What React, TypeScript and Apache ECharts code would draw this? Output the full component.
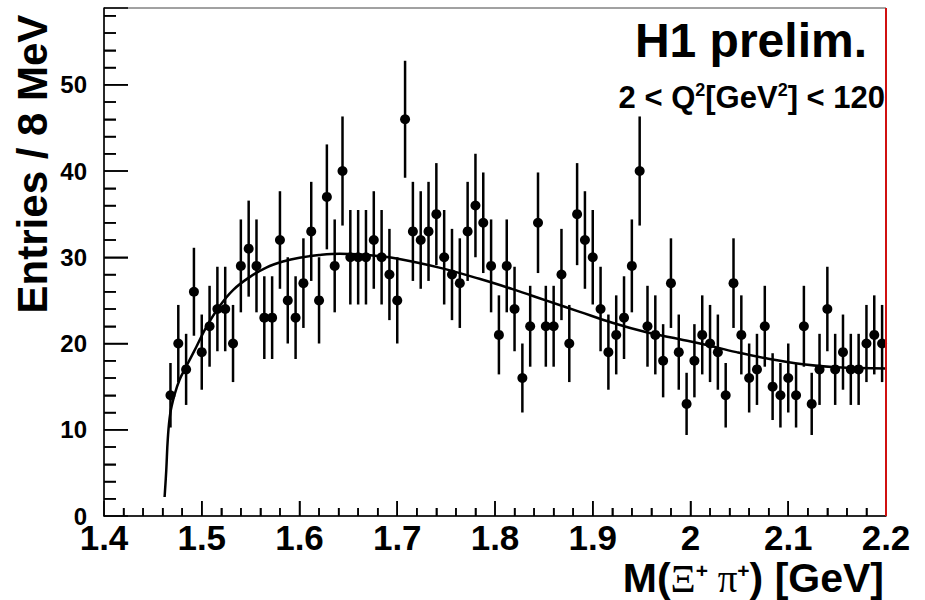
import React, { useEffect, useRef } from "react";
import * as echarts from "echarts";

// Bin centres of the 8 MeV histogram bins (GeV)
const masses = [
  1.468, 1.476, 1.484, 1.492, 1.5, 1.508, 1.516, 1.524, 1.532, 1.54,
  1.548, 1.556, 1.564, 1.572, 1.58, 1.588, 1.596, 1.604, 1.612, 1.62,
  1.628, 1.636, 1.644, 1.652, 1.66, 1.668, 1.676, 1.684, 1.692, 1.7,
  1.708, 1.716, 1.724, 1.732, 1.74, 1.748, 1.756, 1.764, 1.772, 1.78,
  1.788, 1.796, 1.804, 1.812, 1.82, 1.828, 1.836, 1.844, 1.852, 1.86,
  1.868, 1.876, 1.884, 1.892, 1.9, 1.908, 1.916, 1.924, 1.932, 1.94,
  1.948, 1.956, 1.964, 1.972, 1.98, 1.988, 1.996, 2.004, 2.012, 2.02,
  2.028, 2.036, 2.044, 2.052, 2.06, 2.068, 2.076, 2.084, 2.092, 2.1,
  2.108, 2.116, 2.124, 2.132, 2.14, 2.148, 2.156, 2.164, 2.172, 2.18,
  2.188, 2.196,
];

// Entries per bin
const counts = [
  14, 20, 17, 26, 19, 22, 24, 24, 20, 29,
  31, 29, 23, 23, 32, 25, 23, 27, 33, 25,
  37, 29, 40, 30, 30, 30, 32, 30, 28, 25,
  46, 33, 32, 33, 35, 30, 28, 27, 33, 36,
  34, 29, 21, 29, 24, 16, 22, 34, 22, 22,
  28, 20, 35, 32, 30, 24, 19, 21, 23, 29,
  40, 22, 21, 18, 27, 19, 13, 18, 21, 20,
  19, 14, 27, 21, 16, 17, 22, 15, 14, 16,
  14, 22, 13, 17, 24, 17, 19, 17, 17, 20,
  21, 20,
];

// Fit curve
const fitMass = [
  1.462, 1.4637, 1.4653, 1.4678, 1.472, 1.4773, 1.484, 1.4944, 1.5046, 1.518,
  1.532, 1.549, 1.566, 1.583, 1.6, 1.62, 1.641, 1.66, 1.68, 1.702,
  1.743, 1.784, 1.818, 1.852, 1.886, 1.92, 1.955, 1.989, 2.012, 2.047,
  2.081, 2.115, 2.149, 2.2,
];
const fitValue = [
  2.2, 5.3, 9.0, 11.9, 14.0, 15.8, 17.3, 19.6, 21.9, 24.3,
  26.2, 27.7, 28.8, 29.5, 29.95, 30.25, 30.4, 30.35, 30.15, 29.8,
  28.8, 27.5, 26.3, 25.0, 23.7, 22.4, 21.3, 20.5, 19.95, 19.0,
  18.2, 17.6, 17.25, 17.1,
];

// Axis tick positions
const xMajorTicks = [1.5, 1.6, 1.7, 1.8, 1.9, 2.0, 2.1];
const xMinorTicks = [
  1.42, 1.44, 1.46, 1.48, 1.52, 1.54, 1.56, 1.58, 1.62, 1.64, 1.66, 1.68,
  1.72, 1.74, 1.76, 1.78, 1.82, 1.84, 1.86, 1.88, 1.92, 1.94, 1.96, 1.98,
  2.02, 2.04, 2.06, 2.08, 2.12, 2.14, 2.16, 2.18,
];
const yMajorTicks = [10, 20, 30, 40, 50];
const yMinorTicks = [
  2, 4, 6, 8, 12, 14, 16, 18, 22, 24, 26, 28, 32, 34, 36, 38, 42, 44, 46, 48,
  52, 54, 56, 58,
];

const xMin = 1.4;
const xMax = 2.2;
const xStep = 0.1;
const yMin = 0;
const yMax = 58.9;
const yStep = 10;

const FONT = "'Liberation Sans', Arial, Helvetica, sans-serif";
const SERIF = "'Liberation Serif', 'DejaVu Serif', serif";

function tickSeries(name: string, values: number[], dir: "x" | "y", len: number) {
  return {
    type: "custom",
    name,
    z: 3,
    data: values.map((v) => (dir === "x" ? [v, yMin, len] : [xMin, v, len])),
    encode: { x: 0, y: 1 },
    renderItem: (params: any, api: any) => {
      const p = api.coord([api.value(0), api.value(1)]);
      const l = api.value(2);
      return {
        type: "line",
        shape:
          dir === "x"
            ? { x1: p[0], y1: p[1], x2: p[0], y2: p[1] - l }
            : { x1: p[0], y1: p[1], x2: p[0] + l, y2: p[1] },
        style: { stroke: "#000", lineWidth: 1.5 },
      };
    },
  };
}

export default function App() {
  const ref = useRef<HTMLDivElement | null>(null);

  useEffect(() => {
    if (!ref.current) return;
    const chart = echarts.init(ref.current, null, { renderer: "svg" });

    const points = masses.map((m, i) => [m, counts[i]]);
    const errors = masses.map((m, i) => [m, counts[i], Math.sqrt(counts[i])]);
    const fit = fitMass.map((m, i) => [m, fitValue[i]]);

    const option: any = {
      animation: false,
      grid: {
        left: 104,
        right: 39,
        top: 8,
        bottom: 84,
        show: true,
        borderColor: "#444",
        borderWidth: 1,
        backgroundColor: "transparent",
      },
      xAxis: {
        type: "value",
        min: xMin,
        max: xMax,
        interval: xStep,
        axisLine: { show: true, lineStyle: { color: "#000", width: 1.5 } },
        axisTick: { show: true, inside: true, length: 15, lineStyle: { color: "#000", width: 1.5 } },
        minorTick: { show: true, splitNumber: 5, length: 8, lineStyle: { color: "#000", width: 1.5 } },
        splitLine: { show: false },
        axisLabel: {
          color: "#000",
          fontFamily: FONT,
          fontWeight: "bold",
          fontSize: 35,
          margin: 4,
        },
      },
      yAxis: {
        type: "value",
        min: yMin,
        max: yMax,
        interval: yStep,
        axisLine: { show: true, lineStyle: { color: "#000", width: 1.5 } },
        axisTick: { show: true, inside: true, length: 24, lineStyle: { color: "#000", width: 1.5 } },
        minorTick: { show: true, splitNumber: 5, length: 12, lineStyle: { color: "#000", width: 1.5 } },
        splitLine: { show: false },
        axisLabel: {
          color: "#000",
          fontFamily: FONT,
          fontWeight: "bold",
          fontSize: 24,
          margin: 17,
          formatter: (v: number) => (v % yStep === 0 ? String(v) : ""),
        },
      },
      graphic: [
        {
          type: "line",
          shape: { x1: 886, y1: 8, x2: 886, y2: 516 },
          style: { stroke: "#d01010", lineWidth: 2 },
          z: 10,
        },
        {
          type: "text",
          x: 32,
          y: 164,
          rotation: Math.PI / 2,
          style: {
            text: "Entries / 8 MeV",
            fill: "#000",
            font: `bold 42px ${FONT}`,
            align: "center",
            verticalAlign: "middle",
          },
        },
        {
          type: "text",
          x: 867,
          y: 40,
          style: {
            text: "H1 prelim.",
            fill: "#000",
            font: `bold 48px ${FONT}`,
            align: "right",
            verticalAlign: "middle",
          },
        },
        {
          type: "text",
          x: 885,
          y: 97,
          style: {
            text: "{n|2 < Q}{s|2}{n|[GeV}{s|2}{n|] < 120}",
            align: "right",
            verticalAlign: "middle",
            rich: {
              n: { fontFamily: FONT, fontWeight: "bold", fontSize: 31, lineHeight: 32, fill: "#000", color: "#000" },
              s: { fontFamily: FONT, fontWeight: "bold", fontSize: 18, lineHeight: 32, verticalAlign: "top", fill: "#000", color: "#000" },
            },
          },
        },
        {
          type: "text",
          x: 884,
          y: 578,
          style: {
            text: "{n|M(}{g|Ξ}{s|+}{g| π}{s|+}{n|) [GeV]}",
            align: "right",
            verticalAlign: "middle",
            rich: {
              n: { fontFamily: FONT, fontWeight: "bold", fontSize: 41, lineHeight: 36, fill: "#000", color: "#000" },
              g: { fontFamily: SERIF, fontWeight: "normal", fontSize: 39, lineHeight: 36, fill: "#000", color: "#000" },
              s: { fontFamily: FONT, fontWeight: "bold", fontSize: 21, lineHeight: 36, verticalAlign: "top", fill: "#000", color: "#000" },
            },
          },
        },
      ],
      series: [
        {
          type: "line",
          name: "fit",
          data: fit,
          showSymbol: false,
          smooth: 0.4,
          lineStyle: { color: "#000", width: 2.5 },
          z: 2,
          silent: true,
        },
        {
          type: "custom",
          name: "errors",
          data: errors,
          encode: { x: 0, y: 1 },
          z: 3,
          renderItem: (params: any, api: any) => {
            const x = api.value(0);
            const y = api.value(1);
            const e = api.value(2);
            const lo = api.coord([x, y - e]);
            const hi = api.coord([x, y + e]);
            return {
              type: "line",
              shape: { x1: lo[0], y1: lo[1], x2: hi[0], y2: hi[1] },
              style: { stroke: "#000", lineWidth: 2.5 },
            };
          },
        },
        {
          type: "scatter",
          name: "data",
          data: points,
          symbol: "circle",
          symbolSize: 10,
          itemStyle: { color: "#000", opacity: 1 },
          z: 4,
        },
        tickSeries("xMajorTicks", xMajorTicks, "x", 15),
        tickSeries("xMinorTicks", xMinorTicks, "x", 8),
        tickSeries("yMajorTicks", yMajorTicks, "y", 24),
        tickSeries("yMinorTicks", yMinorTicks, "y", 12),
      ],
    };

    chart.setOption(option);
    return () => chart.dispose();
  }, []);

  return (
    <div
      ref={ref}
      style={{ position: "fixed", left: 0, top: 0, width: 925, height: 600, background: "#fff" }}
    />
  );
}
